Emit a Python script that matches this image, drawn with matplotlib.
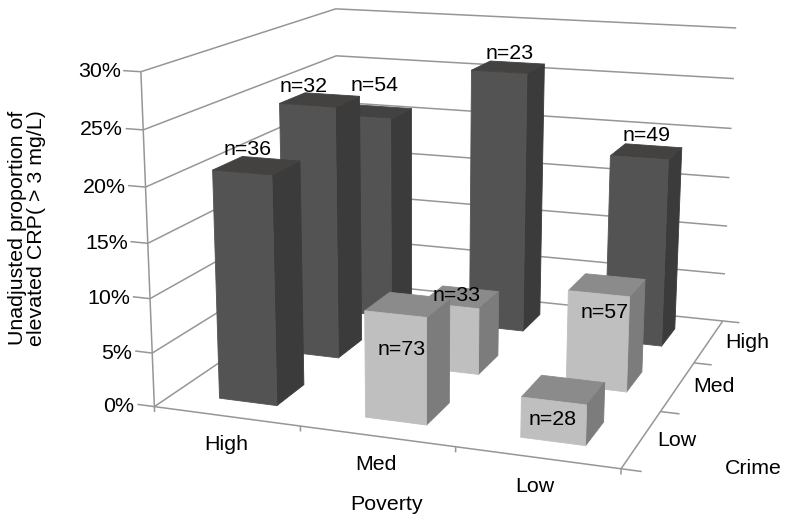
import numpy as np
import matplotlib
matplotlib.use("Agg")
import matplotlib.pyplot as plt
from mpl_toolkits.mplot3d import Axes3D  # noqa

W, H = 788, 523
FS = 15.4
plt.rcParams['font.family'] = ['Liberation Sans', 'DejaVu Sans']

# ---- data -------------------------------------------------------------
poverty = ['High', 'Med', 'Low']
crime = ['Low', 'Med', 'High']
# rows: crime Low, Med, High; columns: poverty High, Med, Low
crp_low = [21.0, 9.7, 3.6]
crp_med = [24.4, 6.4, 9.0]
crp_high = [20.7, 26.1, 18.6]
n_low = ['n=36', 'n=73', 'n=28']
n_med = ['n=32', 'n=33', 'n=57']
n_high = ['n=54', 'n=23', 'n=49']
z_ticks = [0, 5, 10, 15, 20, 25, 30]

# ---- camera: fitted to the reference's box (data point -> image pixel) --
cam_pairs = [
    ((0, 0, 0), (155, 406)), ((3, 0, 0), (620, 469)), ((3, 3, 0), (723, 321)),
    ((0, 0, 30), (141, 72)), ((0, 3, 30), (337, 8)), ((3, 3, 30), (736, 28)),
    ((0, 0, 15), (147, 243)), ((3, 3, 15), (729, 178)), ((0, 3, 15), (336, 149)),
    ((1, 0, 0), (301, 426)), ((2, 0, 0), (455, 448)),
    ((3, 1, 0), (662, 411)), ((3, 2, 0), (694, 362)),
]
A_, b_ = [], []
for (x, y, z), (u, v) in cam_pairs:
    A_.append([x, y, z, 1, 0, 0, 0, 0, -u * x, -u * y, -u * z]); b_.append(u)
    A_.append([0, 0, 0, 0, x, y, z, 1, -v * x, -v * y, -v * z]); b_.append(v)
sol = np.linalg.lstsq(np.array(A_, float), np.array(b_, float), rcond=None)[0]
P = np.append(sol, 1.0).reshape(3, 4)


def project(x, y, z):
    q = P @ np.array([x, y, z, 1.0])
    return q[0] / q[2], q[1] / q[2]


fig = plt.figure(figsize=(W / 100, H / 100), dpi=100, facecolor='white')
ax = fig.add_axes([0, 0, 1, 1], projection='3d', computed_zorder=False)
ax.apply_aspect = lambda position=None: None
ax.set_axis_off()
ax.patch.set_visible(False)
ax.set_xlim(0, 3); ax.set_ylim(0, 3); ax.set_zlim(0, 30)


def get_proj():
    pts = np.array([[0, 0], [1, 0], [0, 1]], float)
    inv = ax.transData.inverted().transform(pts)
    o = inv[0]; ex = inv[1] - o; ey = inv[2] - o
    A = np.array([[ex[0], ey[0], o[0]], [ex[1], ey[1], o[1]], [0, 0, 1]])
    F = np.array([[1, 0, 0], [0, -1, H], [0, 0, 1]], float)
    V = A @ F @ P
    return np.array([V[0], V[1], [0, 0, 0, -1.0], V[2]])


ax.get_proj = get_proj

GRID = '#969696'
lkw = dict(color=GRID, lw=1.1, zorder=1, solid_capstyle='butt')
for z in z_ticks:
    ax.plot([0, 0, 3], [0, 3, 3], [z, z, z], **lkw)
    ax.plot([0, -0.12], [0, 0], [z, z], **lkw)
ax.plot([0, 0], [0, 0], [0, 30], **lkw)
ax.plot([0, 3, 3], [0, 0, 3], [0, 0, 0], **lkw)
for i in range(4):
    ax.plot([i, i], [0, 0], [0, -0.5], **lkw)
for j in range(4):
    ax.plot([3, 3.12], [j, j], [0, 0], **lkw)

# ---- bars --------------------------------------------------------------
x_start, bar_w = 0.315, 0.40
y_start, bar_d = 0.28, 0.42
NONE = (0, 0, 0, 0)
rows = [crp_low, crp_med, crp_high]


def faces(v):
    if v > 15:
        front, side, top = '#545354', '#3c3b3c', '#434241'
    else:
        front, side, top = '#bfbfbf', '#7c7c7c', '#8b8b8b'
    # -Z, +Z, -Y, +Y, -X, +X
    return [NONE, top, front, NONE, NONE, side]


zo = 2
for j in [2, 1, 0]:
    for i in range(3):
        v = rows[j][i]
        c = faces(v)
        ax.bar3d(i + x_start, j + y_start, 0, bar_w, bar_d, v,
                 color=c, edgecolor=c, shade=False, zorder=zo, linewidth=0.6)
        zo += 1


def ftext(px, py, s, **kw):
    t = fig.text(px / W, 1 - py / H, s, fontsize=FS, color='black', **kw)
    t.set_zorder(60)
    return t


# ---- count labels, anchored on the bars (pixel offset from top of front face)
names = [n_low, n_med, n_high]
off_low = [(6, -23), (6, 35), (-1, 18)]
off_med = [(-4, -19), (6, -10), (6, 19)]
off_high = [(10, -32), (11, -18), (7, -22)]
offs = [off_low, off_med, off_high]
for j in range(3):
    for i in range(3):
        u, v = project(i + x_start + bar_w / 2, j + y_start, rows[j][i])
        ftext(u + offs[j][i][0], v + offs[j][i][1], names[j][i], ha='center', va='center')

for z in z_ticks:
    u, v = project(0, 0, z)
    ftext(u - 20, v, f'{z}%', ha='right', va='center')

for s, (u, v) in zip(poverty, [(226, 445), (376, 464), (535, 487)]):
    ftext(u, v, s, ha='center', va='center')
for s, (u, v) in zip(crime, [(677, 440), (714, 387), (747, 342)]):
    ftext(u, v, s, ha='center', va='center')
ftext(387, 505, 'Poverty', ha='center', va='center')
ftext(753, 468, 'Crime', ha='center', va='center')
ftext(27, 228, 'Unadjusted proportion of\nelevated CRP( > 3 mg/L)',
      rotation=90, ha='center', va='center', multialignment='center', linespacing=1.05)

fig.savefig('out.png', dpi=100, facecolor='white')
